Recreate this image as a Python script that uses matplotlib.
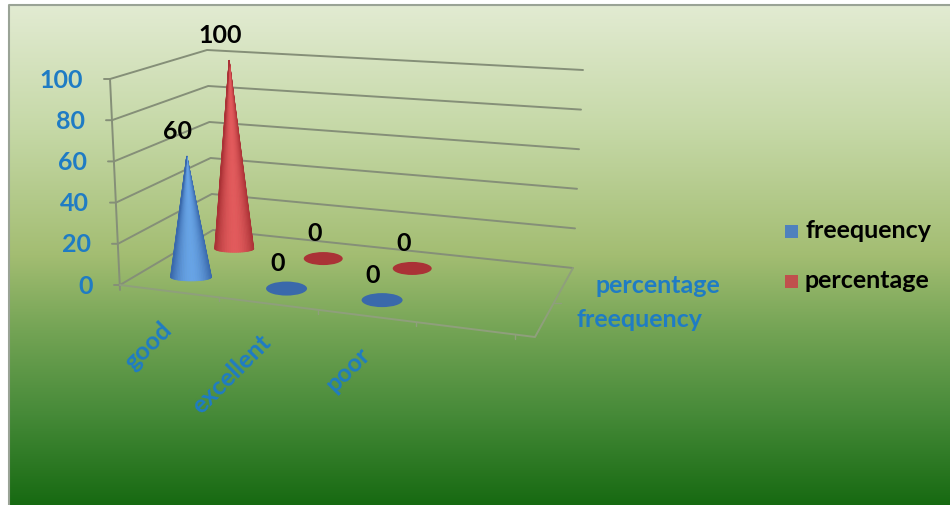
import numpy as np
import matplotlib
matplotlib.use("Agg")
import matplotlib.pyplot as plt
from matplotlib.colors import LinearSegmentedColormap
from matplotlib.patches import Ellipse, Rectangle

categories = ["good", "excellent", "poor"]
series_names = ["freequency", "percentage"]
freequency = [60, 0, 0]
percentage = [100, 0, 0]
value_ticks = [0, 20, 40, 60, 80, 100]

BLUE_TEXT = "#1f7cc4"
GRID = "#858f78"
FLOOR = "#8f9f7c"
FONT_SIZE = 18

# screen position of the chart box corners
FRONT_LEFT = np.array([120.0, 285.0])
BACK_LEFT = np.array([213.0, 230.0])
BACK_RIGHT = np.array([573.0, 268.0])
FRONT_RIGHT = np.array([535.0, 337.0])
UP_FRONT_LEFT = np.array([-10.0, -206.0])
UP_BACK_LEFT = np.array([-6.0, -180.0])
UP_BACK_RIGHT = np.array([10.0, -198.0])
UP_FRONT_RIGHT = np.array([6.0, -224.0])
N_SLOTS = 4.2


def project(x, d, v):
    """x along the categories, d into the depth (both 0-1), v is the value."""
    front = FRONT_LEFT + x * (FRONT_RIGHT - FRONT_LEFT)
    back = BACK_LEFT + x * (BACK_RIGHT - BACK_LEFT)
    up_front = UP_FRONT_LEFT + x * (UP_FRONT_RIGHT - UP_FRONT_LEFT)
    up_back = UP_BACK_LEFT + x * (UP_BACK_RIGHT - UP_BACK_LEFT)
    base = front + d * (back - front)
    up = up_front + d * (up_back - up_front)
    return base + up * v / 100.0


def line(ax, pts, color=GRID, lw=1.4):
    pts = np.array(pts)
    ax.plot(pts[:, 0], pts[:, 1], color=color, lw=lw, solid_capstyle="round", zorder=2)


def draw_cone(ax, base, tip, half_w, half_h, dark, light, zorder):
    # flat ellipse when the value is zero, otherwise shaded slices up to the tip
    if np.allclose(base, tip):
        ax.add_patch(Ellipse(base, 2 * half_w, 2 * half_h, fc=dark, ec="none", zorder=zorder))
        return
    half_h = half_h * 0.55
    dark = np.array(matplotlib.colors.to_rgb(dark))
    light = np.array(matplotlib.colors.to_rgb(light))
    angles = np.linspace(0, np.pi, 31)
    for a0, a1 in zip(angles[:-1], angles[1:]):
        mid = (a0 + a1) / 2
        shade = np.sin(mid) ** 2
        tri = [tip,
               base + [half_w * np.cos(a0), half_h * np.sin(a0)],
               base + [half_w * np.cos(a1), half_h * np.sin(a1)]]
        col = dark + (light - dark) * shade
        ax.fill(*zip(*tri), fc=col, ec=col, lw=0.6, zorder=zorder)


fig = plt.figure(figsize=(9.5, 5.05), dpi=100, facecolor="white")
ax = fig.add_axes([0, 0, 1, 1])
ax.axis("off")
plt.rcParams["font.family"] = ["Lato", "DejaVu Sans"]

# background
cmap = LinearSegmentedColormap.from_list("bg", [
    (0.0, "#e2ebd2"), (0.25, "#c5d8a6"), (0.5, "#a3bd72"),
    (0.65, "#74a455"), (0.82, "#468a38"), (1.0, "#176a12")])
grad = np.linspace(0, 1, 256).reshape(-1, 1)
ax.imshow(grad, cmap=cmap, extent=[9, 950, 505, 5], aspect="auto", zorder=0)
ax.set_xlim(0, 950)
ax.set_ylim(505, 0)
line(ax, [(9, 505), (9, 5), (950, 5)], color="#9aa396", lw=1.5)

# walls and gridlines
for v in value_ticks:
    line(ax, [project(0, 0, v) + [-6, 0], project(0, 0, v), project(0, 1, v), project(1, 1, v)])
    ax.text(project(0, 0, v)[0] - 27, project(0, 0, v)[1] + 1, str(v), ha="right", va="center",
            fontsize=FONT_SIZE, fontweight="bold", color=BLUE_TEXT, zorder=5)
line(ax, [project(0, 0, 0) + [0, 5], project(0, 0, 100)])

# floor
line(ax, [project(0, 0, 0), project(1, 0, 0), project(1, 1, 0)], color=FLOOR)
for i in range(1, 5):
    line(ax, [project(i / N_SLOTS, 0, 0), project(i / N_SLOTS, 0, 0) + [0, 4]], color=FLOOR, lw=1)
line(ax, [project(1, 0.5, 0), project(1, 0.5, 0) + [7, 0]], color=FLOOR, lw=1)

# cones, back row first so the front row sits on top
rows = [(1, percentage, "#aa3236", "#e25a5c", 19.5, 6.5), (0, freequency, "#3a69ab", "#67a3e6", 20.5, 7)]
for j, values, dark, light, half_w, half_h in rows:
    d = (j + 0.5) / 2
    for i, val in enumerate(values):
        x = (i + 0.5) / N_SLOTS
        base = project(x, d, 0)
        tip = project(x, d, val)
        draw_cone(ax, base, tip, half_w, half_h, dark, light, 3 + (1 - j))
        ax.text(tip[0] - 9, tip[1] - 25, str(val), ha="center", va="center",
                fontsize=FONT_SIZE, fontweight="bold", color="black", zorder=6)

# category labels
for i, name in enumerate(categories):
    p = project((i + 0.5) / N_SLOTS, 0, 0)
    ax.text(p[0] - 1, p[1] + 35, name, rotation=45, rotation_mode="anchor", ha="right", va="center",
            fontsize=FONT_SIZE, fontweight="bold", color=BLUE_TEXT, zorder=5)

# series labels along the depth axis
for j, name in enumerate(series_names):
    p = project(1, (j + 0.5) / 2, 0)
    ax.text(p[0] + 32, p[1], name, ha="left", va="center",
            fontsize=FONT_SIZE, fontweight="bold", color=BLUE_TEXT, zorder=5)

# legend
legend_colors = ["#4f81bd", "#c0504d"]
legend_y = [231, 281]
for name, col, y in zip(series_names, legend_colors, legend_y):
    ax.add_patch(Rectangle((785, y - 6), 13, 13, fc=col, ec="none", zorder=5))
    ax.text(805, y - 1, name, ha="left", va="center", fontsize=FONT_SIZE, fontweight="bold", color="black", zorder=5)

fig.savefig("out.png", dpi=100)
